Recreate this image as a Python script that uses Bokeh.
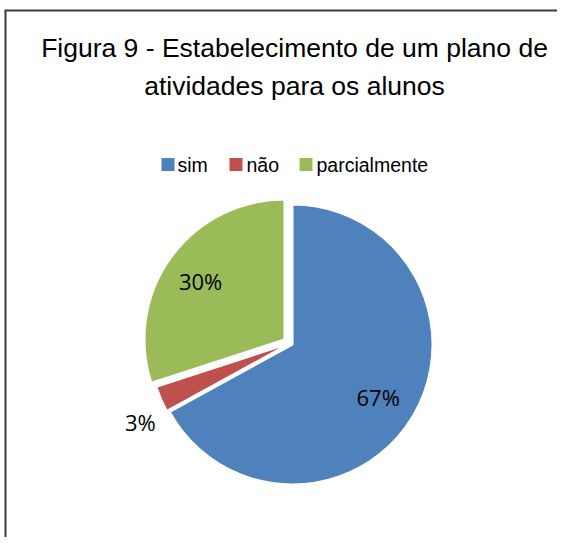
import math
from bokeh.plotting import figure
from bokeh.models import Range1d
from bokeh.core.properties import value
from bokeh.embed import file_html
from bokeh.resources import INLINE

# ---- data ----
categories = ["sim", "não", "parcialmente"]
values = [67, 3, 30]
colors = ["#4F81BD", "#C0504D", "#9BBB59"]
title_lines = ["Figura 9 - Estabelecimento de um plano de", "atividades para os alunos"]

# ---- layout (picture pixel coordinates) ----
W, H = 557, 537


def py(y_pix):
    return H - y_pix


p = figure(width=W, height=H, output_backend="svg", toolbar_location=None,
           x_range=Range1d(0, W), y_range=Range1d(0, H),
           min_border=0, outline_line_color=None)
p.axis.visible = False
p.grid.visible = False
p.background_fill_color = "white"
p.border_fill_color = "white"

# border (only left/top visible in the crop)
p.segment(x0=[5, 4], y0=[py(10), py(10)], x1=[5, W], y1=[py(H), py(10)],
          line_color="#3a3a3a", line_width=2)

# title
for line, yb in zip(title_lines, [47, 85]):
    p.text(x=[294], y=[py(yb)], text=[line], text_align="center",
           text_baseline="alphabetic", text_font=value("Liberation Sans"),
           text_font_size="26.5px", text_color="#000000")

# pie
centers = [(292, 344), (289, 343), (284, 339)]
radius = 140
total = float(sum(values))
start = math.pi / 2
label_dist = [103, 168, 100]
label_nudge = [(-3, 0), (5, 12), (-3, 0)]
for i, (cat, v, c) in enumerate(zip(categories, values, colors)):
    sweep = 2 * math.pi * v / total
    end = start - sweep
    cx, cy = centers[i]
    p.wedge(x=[cx], y=[py(cy)], radius=radius, start_angle=end, end_angle=start,
            fill_color=c, line_color="white", line_width=2)
    mid = (start + end) / 2
    lx = cx + label_dist[i] * math.cos(mid) + label_nudge[i][0]
    ly = py(cy) + label_dist[i] * math.sin(mid) - label_nudge[i][1]
    p.text(x=[lx], y=[ly], text=[f"{v}%"], text_align="center",
           text_baseline="middle", text_font=value("Open Sans"),
           text_font_size="22px", text_color="#000000")
    start = end

# legend
sq_x = [161, 229, 299]
tx_x = [177, 246, 316]
leg_y = 164
for i, (cat, c) in enumerate(zip(categories, colors)):
    p.rect(x=[sq_x[i] + 6.5], y=[py(leg_y)], width=13, height=13, fill_color=c,
           line_color=None)
    p.text(x=[tx_x[i]], y=[py(leg_y)], text=[cat], text_align="left",
           text_baseline="middle", text_font=value("Liberation Sans"),
           text_font_size="19.5px", text_color="#000000")

open("out.html", "w").write(file_html(p, INLINE))
